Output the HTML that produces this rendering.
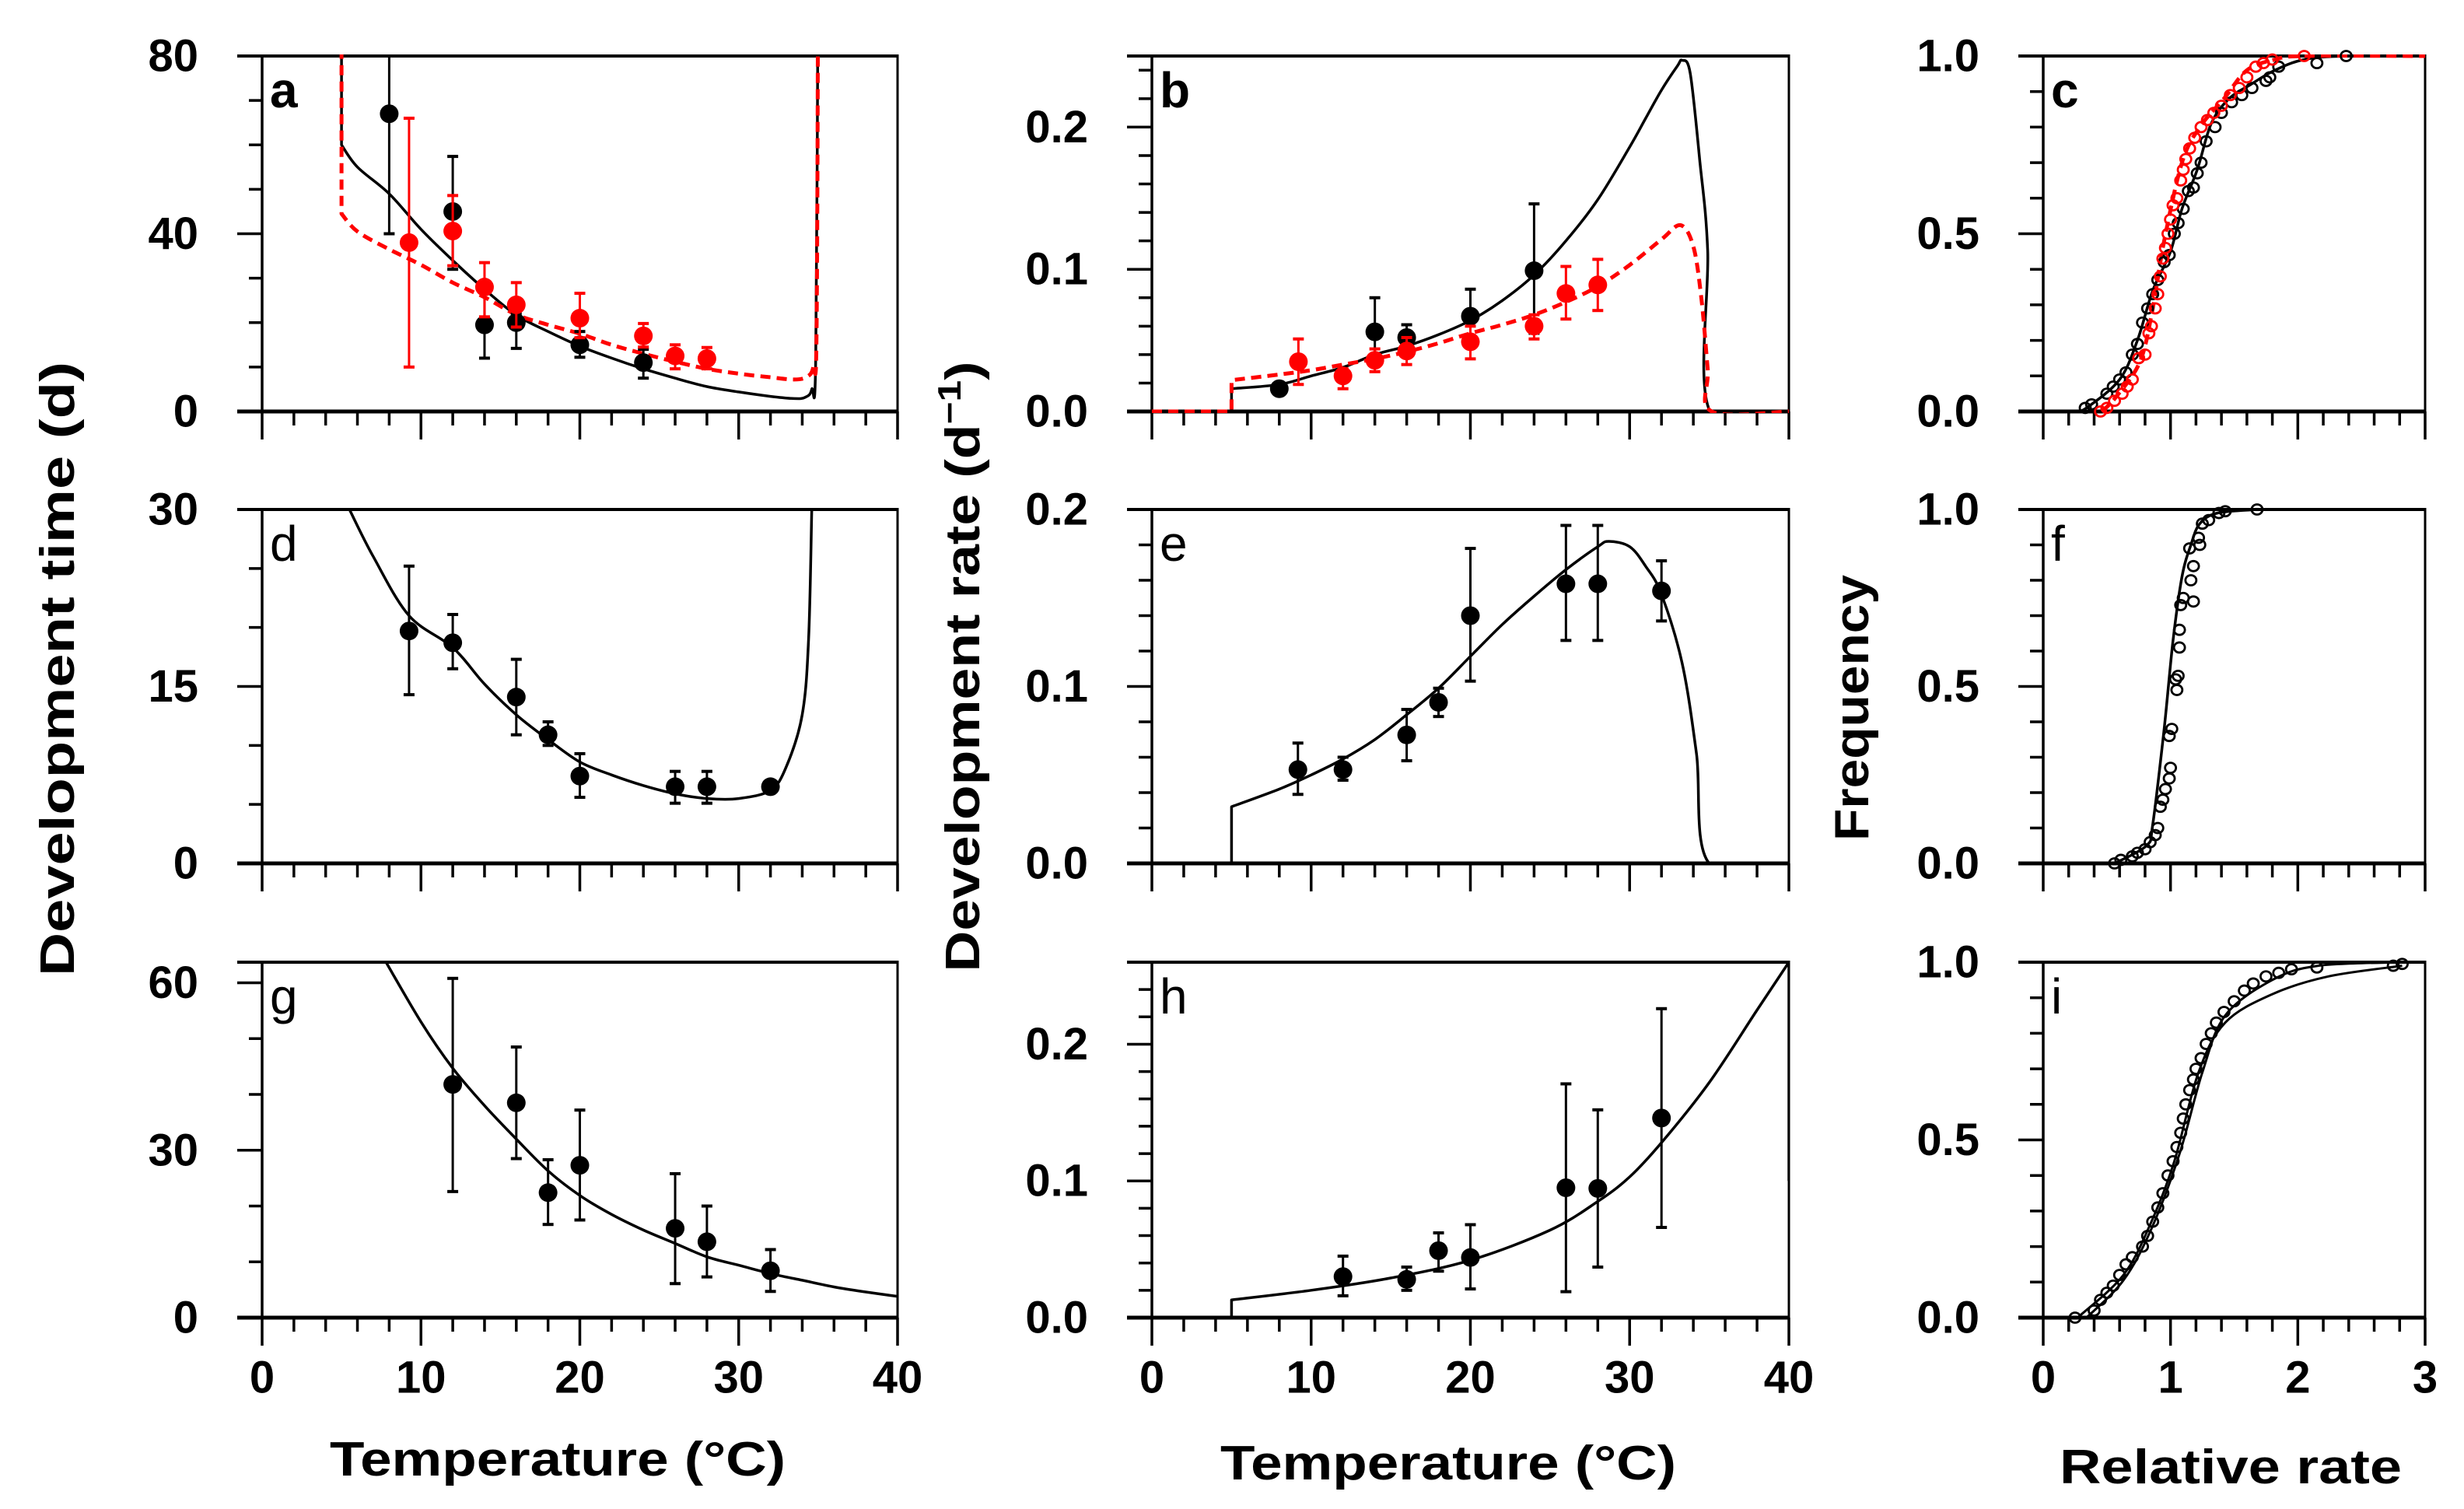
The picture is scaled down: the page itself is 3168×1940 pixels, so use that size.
<!DOCTYPE html>
<html><head><meta charset="utf-8">
<style>
html,body{margin:0;padding:0;background:#fff;}
svg{display:block;font-family:"Liberation Sans",Arial,sans-serif;}
</style></head>
<body>
<svg id="fig" width="3168" height="1940" viewBox="0 0 3168 1940" xmlns="http://www.w3.org/2000/svg">
<rect x="0" y="0" width="3168" height="1940" fill="#fff"/>
<g id="titles" font-weight="bold" fill="#000">
<text x="0" y="0" font-size="62" text-anchor="middle" transform="translate(95,860) rotate(-90)" textLength="790" lengthAdjust="spacingAndGlyphs">Development time (d)</text>
<text x="0" y="0" font-size="62" text-anchor="middle" transform="translate(1259,857) rotate(-90)" textLength="785" lengthAdjust="spacingAndGlyphs">Development rate (d<tspan dy="-24" font-size="42">−1</tspan><tspan dy="24">)</tspan></text>
<text x="0" y="0" font-size="62" text-anchor="middle" transform="translate(2402,910) rotate(-90)" textLength="342" lengthAdjust="spacingAndGlyphs">Frequency</text>
<text x="717" y="1897" font-size="62" text-anchor="middle" textLength="586" lengthAdjust="spacingAndGlyphs">Temperature (°C)</text>
<text x="1862" y="1902" font-size="62" text-anchor="middle" textLength="586" lengthAdjust="spacingAndGlyphs">Temperature (°C)</text>
<text x="2868" y="1907" font-size="62" text-anchor="middle" textLength="440" lengthAdjust="spacingAndGlyphs">Relative rate</text>
</g>
</svg>
<script>
// ---------- DATA ----------
const aBlackT = [8, 12, 14, 16, 20, 24];
const aBlackY = [67, 45, 19.5, 20, 15, 11];
const aBlackLo = [40, 32, 12, 14.2, 12.2, 7.5];
const aBlackHi = [80, 57.4, 27, 22, 18, 14];
const aRedT = [9.25, 12, 14, 16, 20, 24, 26, 28];
const aRedY = [38, 40.6, 28, 24, 21, 17, 12.5, 11.9];
const aRedLo = [10, 32.8, 21.3, 19, 16.6, 14.5, 9.6, 9.6];
const aRedHi = [66, 48.6, 33.5, 29, 26.6, 19.8, 15, 14.4];
const aBlackCurveT = [5, 5, 6, 8, 10, 12, 14, 16, 18, 20, 22, 24, 26, 28, 30, 32, 33.5, 34.2, 34.6, 34.85, 35];
const aBlackCurveY = [100, 60, 55, 49, 41, 34, 27.5, 21.7, 18, 14.7, 12, 9.6, 7.5, 5.6, 4.4, 3.4, 2.9, 3.2, 5, 12, 100];
const aRedCurveT = [5, 5, 6, 8, 10, 12, 14, 16, 18, 20, 22, 24, 26, 28, 30, 32, 33.5, 34.3, 34.7, 34.9, 35];
const aRedCurveY = [100, 44.5, 40.5, 36.5, 33, 29, 25.7, 21.8, 19.5, 17.5, 15, 13, 11.2, 9.6, 8.5, 7.7, 7.2, 7.8, 10, 17, 100];

const bBlackT = [8, 14, 16, 20, 24];
const bBlackY = [0.016, 0.056, 0.052, 0.067, 0.099];
const bBlackLo = [0.014, 0.040, 0.045, 0.050, 0.055];
const bBlackHi = [0.018, 0.080, 0.061, 0.086, 0.146];
const bRedT = [9.2, 12, 14, 16, 20, 24, 26, 28];
const bRedY = [0.035, 0.025, 0.036, 0.0425, 0.049, 0.060, 0.083, 0.089];
const bRedLo = [0.019, 0.016, 0.028, 0.033, 0.037, 0.051, 0.065, 0.071];
const bRedHi = [0.051, 0.030, 0.044, 0.052, 0.060, 0.068, 0.102, 0.107];
const bBlackCurveT = [0, 5, 5, 8, 10, 12, 14, 16, 18, 20, 22, 24, 26, 28, 30, 31, 32, 33, 33.3, 33.8, 34.4, 34.9, 35.05, 40];
const bBlackCurveY = [0, 0, 0.016, 0.019, 0.025, 0.031, 0.040, 0.046, 0.054, 0.064, 0.078, 0.096, 0.12, 0.149, 0.186, 0.206, 0.226, 0.243, 0.247, 0.238, 0.177, 0.113, 0, 0];
const bRedCurveT = [0, 5, 5, 8, 10, 12, 14, 16, 18, 20, 22, 24, 26, 28, 30, 32, 33.2, 34, 34.5, 34.9, 35.15, 40];
const bRedCurveY = [0, 0, 0.022, 0.026, 0.029, 0.033, 0.037, 0.042, 0.048, 0.055, 0.061, 0.068, 0.077, 0.088, 0.103, 0.121, 0.131, 0.116, 0.08, 0.03, 0, 0];

const cBlackX = [0.33,0.38,0.5,0.55,0.6,0.65,0.7,0.74,0.78,0.82,0.86,0.9,0.95,0.99,1.03,1.06,1.1,1.14,1.18,1.21,1.24,1.28,1.35,1.4,1.48,1.56,1.64,1.75,1.78,1.85,2.15,2.38];
const cBlackF = [0.01,0.02,0.05,0.07,0.09,0.11,0.16,0.19,0.25,0.29,0.33,0.37,0.42,0.44,0.5,0.53,0.57,0.62,0.63,0.67,0.7,0.76,0.8,0.84,0.87,0.89,0.91,0.93,0.94,0.97,0.98,1.0];
const cRedX = [0.45,0.5,0.56,0.62,0.66,0.7,0.75,0.8,0.83,0.85,0.88,0.9,0.92,0.94,0.96,0.98,1.0,1.02,1.05,1.08,1.1,1.12,1.15,1.19,1.24,1.29,1.34,1.4,1.47,1.54,1.6,1.67,1.73,1.8,2.05];
const cRedF = [0.0,0.01,0.03,0.05,0.07,0.09,0.15,0.16,0.22,0.24,0.29,0.33,0.38,0.43,0.46,0.5,0.54,0.58,0.6,0.65,0.68,0.71,0.74,0.77,0.8,0.82,0.84,0.86,0.89,0.91,0.94,0.97,0.98,0.99,1.0];
const cBlackCurveX = [0.25,0.34,0.6,0.74,0.86,1.0,1.09,1.21,1.32,1.46,1.63,1.82,2.05,2.38,3];
const cBlackCurveF = [0,0.01,0.09,0.2,0.34,0.45,0.57,0.68,0.81,0.88,0.92,0.96,0.99,1.0,1.0];
const cRedCurveX = [0.46,0.57,0.76,0.86,0.95,1.09,1.23,1.42,1.6,1.82,2.05,3];
const cRedCurveF = [0,0.04,0.14,0.29,0.48,0.7,0.8,0.88,0.96,0.99,1.0,1.0];

const dT = [9.25, 12, 16, 18, 20, 26, 28, 32];
const dY = [19.7, 18.7, 14.1, 10.9, 7.4, 6.5, 6.5, 6.5];
const dLo = [14.3, 16.5, 10.9, 10, 5.6, 5.1, 5.1, 6.5];
const dHi = [25.2, 21.1, 17.3, 12, 9.3, 7.8, 7.8, 6.5];
const dCurveT = [5.5, 7, 9.25, 12, 14, 16, 18, 20, 22, 24, 26, 28, 30, 32, 33, 34, 34.4, 34.6];
const dCurveY = [30, 26, 21, 18.3, 15.2, 12.6, 10.5, 8.6, 7.5, 6.6, 5.9, 5.5, 5.5, 6.2, 8.2, 12.6, 19, 30];

const eT = [9.17, 12, 16, 18, 20, 26, 28, 32];
const eY = [0.053, 0.053, 0.0726, 0.091, 0.140, 0.158, 0.158, 0.154];
const eLo = [0.039, 0.047, 0.058, 0.083, 0.103, 0.126, 0.126, 0.137];
const eHi = [0.068, 0.060, 0.087, 0.099, 0.178, 0.191, 0.191, 0.171];
const eCurveT = [0, 5, 5, 8, 10, 12, 14, 16, 18, 20, 22, 24, 26, 28, 28.7, 30, 31, 32, 33.3, 34.2, 35, 40];
const eCurveY = [0, 0, 0.032, 0.042, 0.050, 0.059, 0.070, 0.084, 0.099, 0.117, 0.135, 0.151, 0.166, 0.179, 0.182, 0.179, 0.168, 0.152, 0.113, 0.062, 0, 0];

const fX = [0.56,0.61,0.7,0.74,0.8,0.84,0.88,0.9,0.92,0.94,0.96,0.99,1.0,0.99,1.01,1.05,1.04,1.06,1.07,1.07,1.08,1.1,1.18,1.16,1.18,1.15,1.23,1.22,1.25,1.3,1.38,1.43,1.68];
const fF = [0.0,0.01,0.02,0.03,0.04,0.06,0.08,0.1,0.16,0.18,0.21,0.24,0.27,0.36,0.38,0.49,0.52,0.53,0.61,0.66,0.73,0.75,0.74,0.8,0.84,0.89,0.9,0.92,0.96,0.97,0.99,0.995,1.0];
const fCurveX = [0.56,0.81,0.86,0.95,1.02,1.09,1.16,1.23,1.37,1.68];
const fCurveF = [0,0.05,0.11,0.38,0.63,0.81,0.9,0.96,0.99,1.0];

const gT = [12, 16, 18, 20, 26, 28, 32];
const gY = [41.8, 38.5, 22.4, 27.3, 16, 13.6, 8.4];
const gLo = [22.6, 28.5, 16.7, 17.5, 6.1, 7.3, 4.7];
const gHi = [60.8, 48.5, 28.3, 37.2, 25.8, 20, 12.2];
const gCurveT = [7.8, 10, 12, 14, 16, 18, 20, 22, 24, 26, 28, 30, 32, 34, 36, 38, 40];
const gCurveY = [63.7, 53, 44.7, 38, 32, 26.3, 21.9, 18.5, 15.7, 13.3, 10.9, 9.4, 7.9, 6.7, 5.5, 4.6, 3.8];

const hT = [12, 16, 18, 20, 26, 28, 32];
const hY = [0.030, 0.028, 0.049, 0.044, 0.095, 0.0945, 0.146];
const hLo = [0.016, 0.020, 0.034, 0.021, 0.019, 0.037, 0.066];
const hHi = [0.045, 0.037, 0.062, 0.068, 0.171, 0.152, 0.226];
const hCurveT = [0, 5, 5, 10, 15, 20, 25, 28, 30, 32, 35, 38, 40, 40];
const hCurveY = [0, 0, 0.013, 0.02, 0.029, 0.042, 0.064, 0.085, 0.103, 0.128, 0.172, 0.225, 0.26, 0.1];

const iX = [0.25,0.4,0.45,0.5,0.55,0.6,0.65,0.7,0.78,0.82,0.86,0.9,0.94,0.98,1.02,1.05,1.08,1.1,1.12,1.15,1.18,1.2,1.24,1.28,1.32,1.36,1.42,1.5,1.58,1.65,1.75,1.85,1.95,2.15,2.75,2.82];
const iF = [0,0.02,0.05,0.07,0.09,0.12,0.15,0.17,0.2,0.23,0.27,0.31,0.35,0.4,0.44,0.48,0.52,0.56,0.6,0.64,0.67,0.7,0.73,0.77,0.8,0.83,0.86,0.89,0.92,0.94,0.96,0.97,0.98,0.985,0.99,0.995];
const iCurve1X = [0.27,0.63,0.85,1.03,1.22,1.43,1.8,2.24,2.82];
const iCurve1F = [0,0.12,0.27,0.44,0.69,0.83,0.91,0.96,0.99];
const iCurve2X = [0.34,0.63,0.85,1.07,1.25,1.43,1.8,2.16,2.82];
const iCurve2F = [0,0.105,0.25,0.46,0.69,0.85,0.95,0.99,1.0];

const tempTickLabels = ['0', '10', '20', '30', '40'];
const relTickLabels = ['0', '1', '2', '3'];
const aTickLabels = ['0', '40', '80'];
const dTickLabels = ['0', '15', '30'];
const gTickLabels = ['0', '30', '60'];
const rateTickLabels = ['0.0', '0.1', '0.2'];
const freqTickLabels = ['0.0', '0.5', '1.0'];

// ---------- DRAWING ----------
const NS = 'http://www.w3.org/2000/svg';
const svg = document.getElementById('fig');
function mk(tag, attrs, parent) {
  const e = document.createElementNS(NS, tag);
  for (const k in attrs) e.setAttribute(k, attrs[k]);
  (parent || svg).appendChild(e);
  return e;
}
const cols = [[337, 1154], [1481, 2300], [2627, 3118]];
const rows = [[72, 529], [655, 1110], [1237, 1694]];

function makePanel(id, col, row, xmin, xmax, ymin, ymax, xMinor, xMajor, yMinor, yMajorVals, yLabels, xLabels, xLabelVals, letterBold) {
  const [L, R] = cols[col], [T, B] = rows[row];
  const g = mk('g', {});
  
  
  const sx = v => L + (v - xmin) / (xmax - xmin) * (R - L);
  const sy = v => B - (v - ymin) / (ymax - ymin) * (B - T);
  const clip = mk('clipPath', { id: 'clip-' + id }, g);
  mk('rect', { x: L, y: T - 2, width: R - L, height: B - T + 4 }, clip);
  const frame = mk('g', { stroke: '#000', fill: 'none' }, g);
  
  
  mk('line', { x1: L, y1: T, x2: L, y2: B, 'stroke-width': 3.5 }, frame);
  mk('line', { x1: R, y1: T, x2: R, y2: B, 'stroke-width': 3 }, frame);
  mk('line', { x1: L - 32, y1: B, x2: R + 1.5, y2: B, 'stroke-width': 5 }, frame);
  mk('line', { x1: L - 32, y1: T, x2: R + 1.5, y2: T, 'stroke-width': 4 }, frame);
  const nx = Math.round((xmax - xmin) / xMinor);
  for (let i = 0; i <= nx; i++) {
    const v = xmin + i * xMinor;
    const major = Math.abs(v / xMajor - Math.round(v / xMajor)) < 1e-6;
    mk('line', { x1: sx(v), y1: B, x2: sx(v), y2: B + (major ? 36 : 18), 'stroke-width': 3.5 }, frame);
  }
  const ny = Math.floor((ymax - ymin) / yMinor + 1e-6);
  for (let i = 0; i <= ny; i++) {
    const v = ymin + i * yMinor;
    const major = yMajorVals.some(m => Math.abs(m - v) < 1e-6);
    mk('line', { x1: L, y1: sy(v), x2: L - (major ? 32 : 17), y2: sy(v), 'stroke-width': 3.5 }, frame);
  }
  yMajorVals.forEach((v, i) => {
    const t = mk('text', { x: L - 82, y: sy(v), 'text-anchor': 'end', 'dominant-baseline': 'central', 'font-size': 58, 'font-weight': 'bold' }, g);
    
    
    t.textContent = yLabels[i];
  });
  if (xLabels) {
    xLabelVals.forEach((v, i) => {
      const t = mk('text', { x: sx(v), y: 1771, 'text-anchor': 'middle', 'dominant-baseline': 'central', 'font-size': 58, 'font-weight': 'bold' }, g);
      
      
      t.textContent = xLabels[i];
    });
  }
  const lt = mk('text', { x: L + 10, y: T + 66, 'font-size': 64, 'font-weight': letterBold ? 'bold' : 'normal' }, g);
  
  
  lt.textContent = id;
  const plot = mk('g', { 'clip-path': 'url(#clip-' + id + ')' }, g);
  return { sx, sy, g, plot };
}

// smooth path (Catmull-Rom), broken at vertical jumps (equal x)
function smoothPath(pts) {
  const segs = [];
  let cur = [pts[0]];
  for (let i = 1; i < pts.length; i++) {
    if (Math.abs(pts[i][0] - pts[i - 1][0]) < 0.01) { segs.push(cur); cur = [pts[i - 1], pts[i]]; segs.push(cur); cur = [pts[i]]; }
    else cur.push(pts[i]);
  }
  segs.push(cur);
  let d = 'M' + pts[0][0].toFixed(1) + ',' + pts[0][1].toFixed(1);
  segs.forEach(s => {
    if (s.length < 2) return;
    if (s.length === 2) { d += ' L' + s[1][0].toFixed(1) + ',' + s[1][1].toFixed(1); return; }
    for (let i = 0; i < s.length - 1; i++) {
      const p0 = s[Math.max(i - 1, 0)], p1 = s[i], p2 = s[i + 1], p3 = s[Math.min(i + 2, s.length - 1)];
      const c1 = [p1[0] + (p2[0] - p0[0]) / 6, p1[1] + (p2[1] - p0[1]) / 6];
      const c2 = [p2[0] - (p3[0] - p1[0]) / 6, p2[1] - (p3[1] - p1[1]) / 6];
      d += ' C' + c1[0].toFixed(1) + ',' + c1[1].toFixed(1) + ' ' + c2[0].toFixed(1) + ',' + c2[1].toFixed(1) + ' ' + p2[0].toFixed(1) + ',' + p2[1].toFixed(1);
    }
  });
  return d;
}
function curve(p, xs, ys, color, dashed, name, w) {
  const pts = xs.map((x, i) => [p.sx(x), p.sy(ys[i])]);
  const e = mk('path', { d: smoothPath(pts), fill: 'none', stroke: color, 'stroke-width': w || (dashed ? 5 : 3.5), 'stroke-linejoin': 'round' }, p.plot);
  if (dashed) e.setAttribute('stroke-dasharray', '13,8');
  
  
}
function errPoints(p, xs, ys, lo, hi, color, name) {
  const grp = mk('g', {}, p.g);
  
  
  xs.forEach((x, i) => {
    const cx = p.sx(x);
    mk('line', { x1: cx, y1: p.sy(lo[i]), x2: cx, y2: p.sy(hi[i]), stroke: color, 'stroke-width': 3 }, grp);
    mk('line', { x1: cx - 7, y1: p.sy(lo[i]), x2: cx + 7, y2: p.sy(lo[i]), stroke: color, 'stroke-width': 4 }, grp);
    mk('line', { x1: cx - 7, y1: p.sy(hi[i]), x2: cx + 7, y2: p.sy(hi[i]), stroke: color, 'stroke-width': 4 }, grp);
    const c = mk('circle', { cx: cx, cy: p.sy(ys[i]), r: 12, fill: color }, grp);
    
    
  });
}
function openPoints(p, xs, ys, color, name) {
  const grp = mk('g', {}, p.g);
  
  
  xs.forEach((x, i) => {
    const c = mk('ellipse', { cx: p.sx(x), cy: p.sy(ys[i]), rx: 7, ry: 6.5, fill: 'none', stroke: color, 'stroke-width': 2.8 }, grp);
    
    
  });
}

const pa = makePanel('a', 0, 0, 0, 40, 0, 80, 2, 10, 10, [0, 40, 80], aTickLabels, null, null, true);
curve(pa, aBlackCurveT, aBlackCurveY, '#000', false, 'curve-a-black');
curve(pa, aRedCurveT, aRedCurveY, '#f00', true, 'curve-a-red');
errPoints(pa, aBlackT, aBlackY, aBlackLo, aBlackHi, '#000', 'points-a-black');
errPoints(pa, aRedT, aRedY, aRedLo, aRedHi, '#f00', 'points-a-red');

const pb = makePanel('b', 1, 0, 0, 40, 0, 0.25, 2, 10, 0.02, [0, 0.1, 0.2], rateTickLabels, null, null, true);
curve(pb, bBlackCurveT, bBlackCurveY, '#000', false, 'curve-b-black');
curve(pb, bRedCurveT, bRedCurveY, '#f00', true, 'curve-b-red');
errPoints(pb, bBlackT, bBlackY, bBlackLo, bBlackHi, '#000', 'points-b-black');
errPoints(pb, bRedT, bRedY, bRedLo, bRedHi, '#f00', 'points-b-red');

const pc = makePanel('c', 2, 0, 0, 3, 0, 1, 0.2, 1, 0.1, [0, 0.5, 1], freqTickLabels, null, null, true);
curve(pc, cBlackCurveX, cBlackCurveF, '#000', false, 'curve-c-black');
curve(pc, cRedCurveX, cRedCurveF, '#f00', true, 'curve-c-red');
openPoints(pc, cBlackX, cBlackF, '#000', 'points-c-black');
openPoints(pc, cRedX, cRedF, '#f00', 'points-c-red');

const pd = makePanel('d', 0, 1, 0, 40, 0, 30, 2, 10, 5, [0, 15, 30], dTickLabels, null, null, false);
curve(pd, dCurveT, dCurveY, '#000', false, 'curve-d');
errPoints(pd, dT, dY, dLo, dHi, '#000', 'points-d');

const pe = makePanel('e', 1, 1, 0, 40, 0, 0.2, 2, 10, 0.02, [0, 0.1, 0.2], rateTickLabels, null, null, false);
curve(pe, eCurveT, eCurveY, '#000', false, 'curve-e');
errPoints(pe, eT, eY, eLo, eHi, '#000', 'points-e');

const pf = makePanel('f', 2, 1, 0, 3, 0, 1, 0.2, 1, 0.1, [0, 0.5, 1], freqTickLabels, null, null, false);
curve(pf, fCurveX, fCurveF, '#000', false, 'curve-f');
openPoints(pf, fX, fF, '#000', 'points-f');

const pg = makePanel('g', 0, 2, 0, 40, 0, 63.7, 2, 10, 10, [0, 30, 60], gTickLabels, tempTickLabels, [0, 10, 20, 30, 40], false);
curve(pg, gCurveT, gCurveY, '#000', false, 'curve-g');
errPoints(pg, gT, gY, gLo, gHi, '#000', 'points-g');

const ph = makePanel('h', 1, 2, 0, 40, 0, 0.26, 2, 10, 0.02, [0, 0.1, 0.2], rateTickLabels, tempTickLabels, [0, 10, 20, 30, 40], false);
curve(ph, hCurveT, hCurveY, '#000', false, 'curve-h');
errPoints(ph, hT, hY, hLo, hHi, '#000', 'points-h');

const pi = makePanel('i', 2, 2, 0, 3, 0, 1, 0.2, 1, 0.1, [0, 0.5, 1], freqTickLabels, relTickLabels, [0, 1, 2, 3], false);
curve(pi, iCurve1X, iCurve1F, '#000', false, 'curve-i-model-1', 3);
curve(pi, iCurve2X, iCurve2F, '#000', false, 'curve-i-model-2', 3);
openPoints(pi, iX, iF, '#000', 'points-i');
</script>
</body></html>
